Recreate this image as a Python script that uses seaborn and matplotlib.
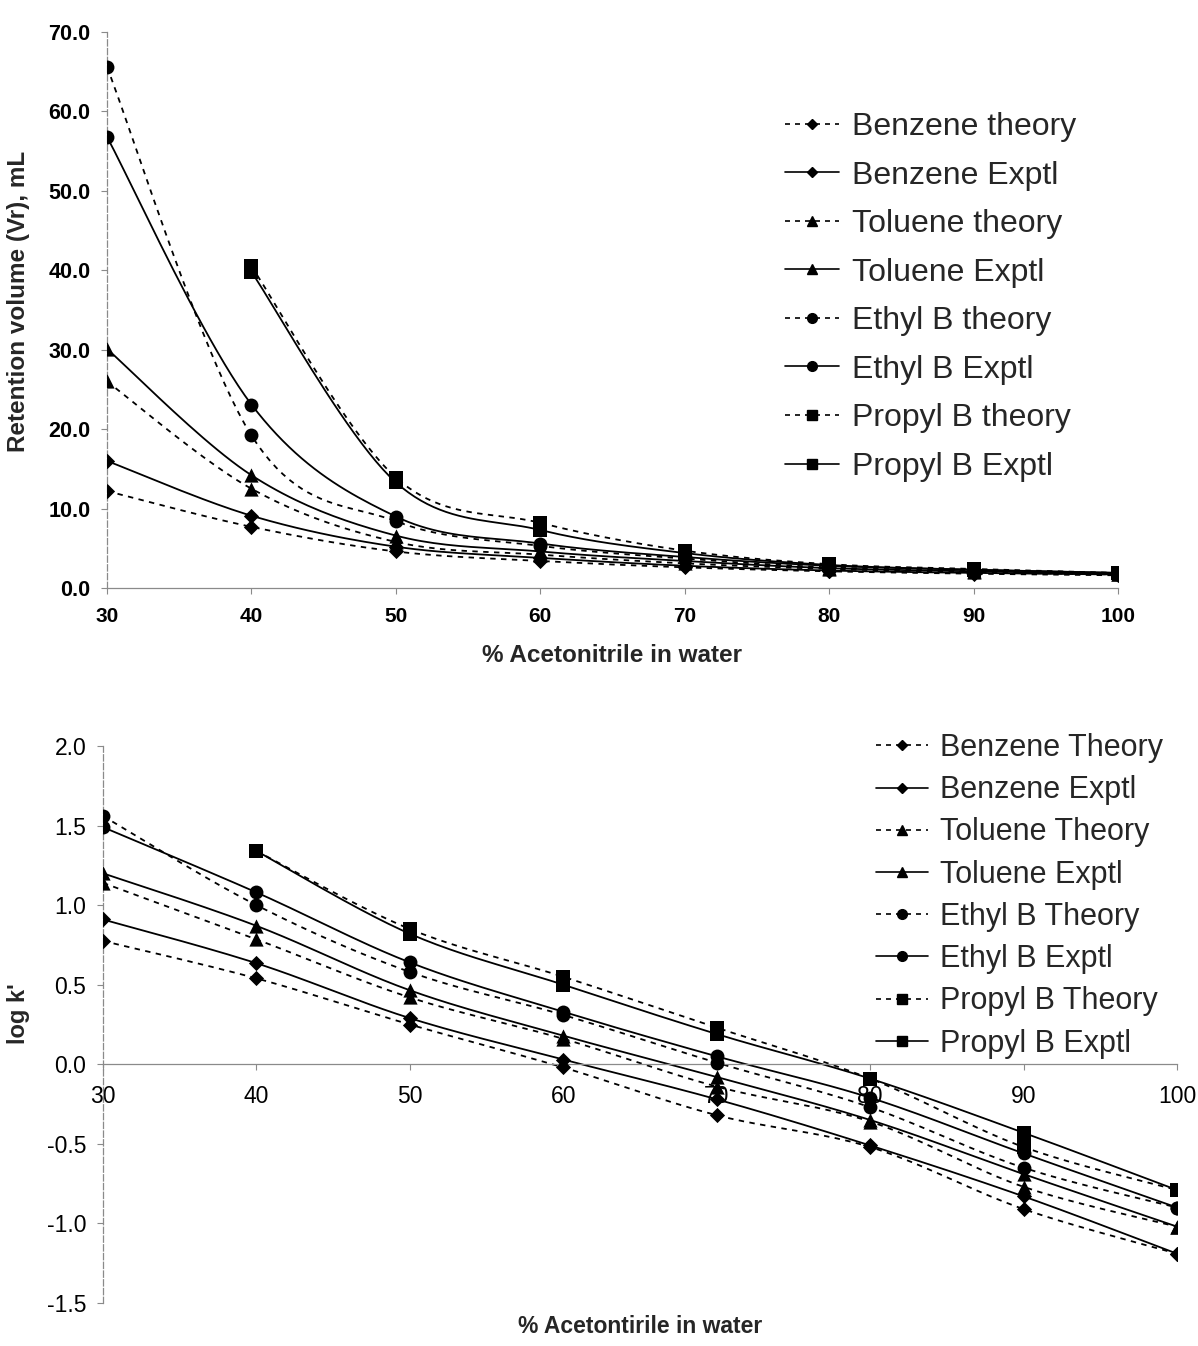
import numpy as np
import matplotlib
matplotlib.use("Agg")
import matplotlib.pyplot as plt
import seaborn as sns
from matplotlib.lines import Line2D
from matplotlib.ticker import FormatStrFormatter

sns.set_theme(style="white")
plt.rcParams["font.family"] = ["Liberation Sans", "DejaVu Sans"]

# % acetonitrile in the mobile phase
acetonitrile = [30, 40, 50, 60, 70, 80, 90, 100]

# Retention volume Vr (mL)
vr_benzene_theory = [12.2, 7.7, 4.6, 3.4, 2.6, 2.1, 1.8, 1.6]
vr_benzene_exptl = [16.0, 9.1, 5.2, 3.8, 2.8, 2.2, 1.9, 1.7]
vr_toluene_theory = [26.0, 12.5, 5.8, 4.2, 3.1, 2.4, 2.0, 1.7]
vr_toluene_exptl = [30.1, 14.2, 6.6, 4.6, 3.4, 2.5, 2.1, 1.8]
vr_ethyl_theory = [65.6, 19.2, 8.4, 5.3, 3.7, 2.6, 2.2, 1.8]
vr_ethyl_exptl = [56.8, 23.1, 9.0, 5.6, 3.9, 2.8, 2.3, 1.9]
vr_propyl_theory = [np.nan, 40.5, 13.9, 8.2, 4.7, 3.0, 2.4, 1.9]
vr_propyl_exptl = [np.nan, 39.8, 13.3, 7.3, 4.4, 2.9, 2.3, 1.9]

# log k'
lk_benzene_theory = [0.775, 0.54, 0.25, -0.02, -0.32, -0.52, -0.91, -1.19]
lk_benzene_exptl = [0.91, 0.635, 0.29, 0.03, -0.22, -0.51, -0.83, -1.19]
lk_toluene_theory = [1.14, 0.785, 0.42, 0.16, -0.14, -0.36, -0.77, -1.02]
lk_toluene_exptl = [1.20, 0.87, 0.465, 0.18, -0.08, -0.35, -0.69, -1.02]
lk_ethyl_theory = [1.56, 1.00, 0.58, 0.31, 0.01, -0.27, -0.65, -0.90]
lk_ethyl_exptl = [1.49, 1.08, 0.64, 0.33, 0.05, -0.21, -0.56, -0.90]
lk_propyl_theory = [np.nan, 1.34, 0.85, 0.55, 0.23, -0.09, -0.52, -0.79]
lk_propyl_exptl = [np.nan, 1.34, 0.82, 0.50, 0.19, -0.09, -0.43, -0.79]

labels_top = ["Benzene theory", "Benzene Exptl", "Toluene theory", "Toluene Exptl",
              "Ethyl B theory", "Ethyl B Exptl", "Propyl B theory", "Propyl B Exptl"]
labels_bottom = ["Benzene Theory", "Benzene Exptl", "Toluene Theory", "Toluene Exptl",
                 "Ethyl B Theory", "Ethyl B Exptl", "Propyl B Theory", "Propyl B Exptl"]

top_series = [vr_benzene_theory, vr_benzene_exptl, vr_toluene_theory, vr_toluene_exptl,
              vr_ethyl_theory, vr_ethyl_exptl, vr_propyl_theory, vr_propyl_exptl]
bottom_series = [lk_benzene_theory, lk_benzene_exptl, lk_toluene_theory, lk_toluene_exptl,
                 lk_ethyl_theory, lk_ethyl_exptl, lk_propyl_theory, lk_propyl_exptl]

markers = ["D", "D", "^", "^", "o", "o", "s", "s"]
marker_area = {"D": 60, "^": 105, "o": 100, "s": 95}
legend_ms = {"D": 5.5, "^": 7, "o": 7, "s": 6.5}
DASH = (0, (3, 3))


def smooth_curve(xs, ys, steps=24):
    """Cubic Bezier path through the points (spreadsheet-style smoothed line)."""
    pts = np.array([(a, b) for a, b in zip(xs, ys) if not np.isnan(b)], dtype=float)
    n = len(pts)
    out = [pts[0]]
    t = np.linspace(0, 1, steps)[1:, None]
    for i in range(n - 1):
        p0 = pts[i - 1] if i > 0 else pts[i]
        p1, p2 = pts[i], pts[i + 1]
        p3 = pts[i + 2] if i + 2 < n else pts[i + 1]
        c1 = p1 + (p2 - p0) / 6.0
        c2 = p2 - (p3 - p1) / 6.0
        seg = (1 - t) ** 3 * p1 + 3 * (1 - t) ** 2 * t * c1 + 3 * (1 - t) * t ** 2 * c2 + t ** 3 * p2
        out.extend(seg)
    arr = np.array(out)
    return arr[:, 0], arr[:, 1]


def draw_series(ax, series_list):
    for i, ys in enumerate(series_list):
        theory = i % 2 == 0
        sx, sy = smooth_curve(acetonitrile, ys)
        sns.lineplot(x=sx, y=sy, ax=ax, color="black", lw=1.3, sort=False,
                     estimator=None, linestyle=DASH if theory else "-", zorder=2)
        px = [a for a, b in zip(acetonitrile, ys) if not np.isnan(b)]
        py = [b for b in ys if not np.isnan(b)]
        sns.scatterplot(x=px, y=py, ax=ax, marker=markers[i], s=marker_area[markers[i]],
                        color="black", edgecolor="black", linewidth=0, zorder=3)


def legend_handles(labels):
    hs = []
    for i, lab in enumerate(labels):
        hs.append(Line2D([], [], color="black", lw=1.2,
                         linestyle=DASH if i % 2 == 0 else "-",
                         marker=markers[i], markersize=legend_ms[markers[i]], label=lab))
    return hs


def style_axes(ax):
    for side in ("top", "right"):
        ax.spines[side].set_visible(False)
    ax.spines["left"].set_color("#8a8a8a")
    ax.spines["left"].set_linewidth(0.9)
    ax.spines["left"].set_linestyle((0, (5, 2)))
    ax.spines["bottom"].set_color("#8a8a8a")
    ax.spines["bottom"].set_linewidth(0.9)
    ax.tick_params(axis="both", bottom=True, left=True, direction="out", length=4,
                   width=0.8, color="#8a8a8a", labelcolor="black")
    ax.set_xlim(30, 100)
    ax.set_xticks(acetonitrile)
    ax.yaxis.set_major_formatter(FormatStrFormatter("%.1f"))


W, H = 1198, 1346
fig = plt.figure(figsize=(W / 100, H / 100), dpi=100)

# ---- Retention volume panel ----
ax1 = fig.add_axes([107 / W, 1 - 588 / H, (1118 - 107) / W, (588 - 32) / H])
draw_series(ax1, top_series)
style_axes(ax1)
ax1.set_ylim(0, 70)
ax1.set_yticks(np.arange(0, 71, 10))
ax1.tick_params(axis="y", labelsize=15.5, pad=8)
ax1.tick_params(axis="x", labelsize=15, pad=10)
for lab in ax1.get_xticklabels() + ax1.get_yticklabels():
    lab.set_fontweight("bold")
ax1.set_xlabel("% Acetonitrile in water", fontsize=17.5, fontweight="bold")
ax1.xaxis.set_label_coords(0.5, -0.10)
ax1.set_ylabel("Retention volume (Vr), mL", fontsize=17.5, fontweight="bold")
ax1.yaxis.set_label_coords(-0.076, 0.516)
ax1.legend(handles=legend_handles(labels_top), loc="upper left",
           bbox_to_anchor=(785 / W, 1 - 112 / H), bbox_transform=fig.transFigure,
           frameon=False, fontsize=23, handlelength=1.7, handletextpad=0.4,
           labelspacing=0.58, borderpad=0, borderaxespad=0)

# ---- log k' panel ----
ax2 = fig.add_axes([103 / W, 1 - 1303 / H, (1177 - 103) / W, (1303 - 746) / H])
draw_series(ax2, bottom_series)
style_axes(ax2)
ax2.set_ylim(-1.5, 2.0)
ax2.set_yticks(np.arange(-1.5, 2.01, 0.5))
ax2.spines["bottom"].set_position(("data", 0))
ax2.tick_params(axis="y", labelsize=16.5, pad=8)
ax2.tick_params(axis="x", labelsize=16.5, pad=11)
ax2.set_xlabel("% Acetontirile in water", fontsize=16.5, fontweight="bold")
ax2.xaxis.set_label_coords(0.5, -0.022)
ax2.set_ylabel("log k'", fontsize=17, fontweight="bold")
ax2.yaxis.set_label_coords(-0.068, 0.52)
ax2.legend(handles=legend_handles(labels_bottom), loc="upper left",
           bbox_to_anchor=(876 / W, 1 - 733 / H), bbox_transform=fig.transFigure,
           frameon=False, fontsize=22, handlelength=1.7, handletextpad=0.4,
           labelspacing=0.40, borderpad=0, borderaxespad=0)

fig.savefig("out.png", dpi=100, facecolor="white")
